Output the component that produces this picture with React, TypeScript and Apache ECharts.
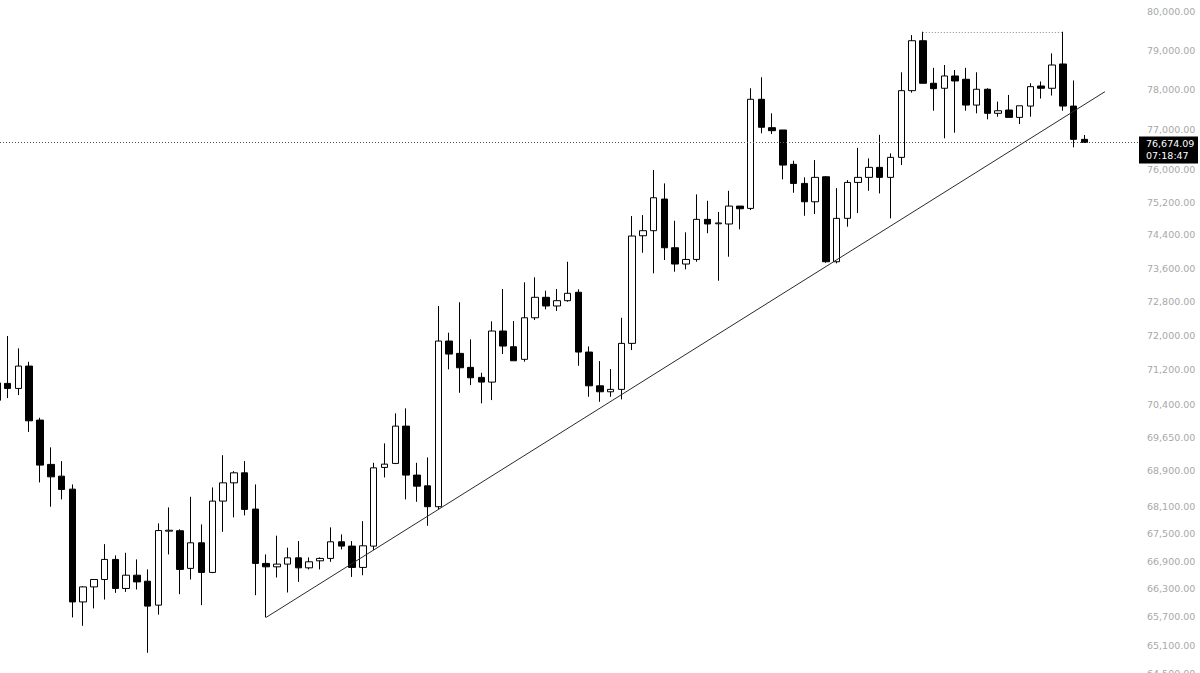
import React, { useEffect, useRef } from "react";
import * as echarts from "echarts";

// Hourly OHLC candles, oldest first (index 0 is partly off the left edge)
const opens = [
  70500, 70889, 70773, 71290, 70047, 69044, 68781, 68490, 66021, 66345,
  66505, 66941, 66311, 66598, 66468, 65952, 67560, 67569, 66746, 67304,
  66658, 68224, 68631, 68855, 68047, 66854, 66780, 66839, 66976, 66758,
  66911, 66963, 67326, 67232, 66767, 67232, 68976, 69066, 69910, 68804,
  68564, 68100, 71873, 71585, 71260, 71028, 70919, 72108, 71740, 71446,
  72420, 72904, 72698, 72824, 73023, 71616, 70833, 70696, 70751, 71819,
  74380, 74502, 75273, 74090, 73698, 73808, 74778, 74670, 74665, 75102,
  75045, 77759, 77043, 76985, 76129, 75658, 75207, 75822, 73753, 74802,
  75682, 75807, 76054, 75807, 76302, 77977, 79255, 78165, 78038, 78351,
  78267, 77612, 78013, 77404, 77487, 77302, 77587, 78096, 78038, 78657,
  77587, 76751,
];
const closes = [
  70900, 70773, 71290, 70031, 69028, 68765, 68483, 66021, 66345, 66505,
  66941, 66311, 66598, 66453, 65931, 67573, 67580, 66724, 67304, 66658,
  68224, 68631, 68855, 68040, 66854, 66780, 66839, 66976, 66758, 66889,
  66963, 67326, 67232, 66767, 67238, 68967, 69050, 69910, 68804, 68557,
  68100, 71873, 71569, 71251, 71019, 70919, 72108, 71756, 71413, 72420,
  72904, 72698, 72824, 72999, 71616, 70833, 70696, 70751, 71819, 74373,
  74502, 75305, 74090, 73698, 73808, 74778, 74665, 74690, 75102, 75036,
  77759, 77053, 76968, 76111, 75658, 75207, 75807, 73753, 74802, 75682,
  75807, 76054, 75807, 76302, 77977, 79255, 78165, 78028, 78351, 78223,
  77612, 78013, 77404, 77469, 77302, 77594, 78079, 78038, 78631, 77587,
  76751, 76674.09,
];
const lows = [
  70460, 70551, 70620, 69779, 68640, 68100, 68262, 65689, 65510, 65882,
  66073, 66216, 66237, 66289, 64937, 65749, 67050, 66188, 66505, 65952,
  66643, 67546, 67863, 67907, 66166, 65689, 66548, 66224, 66453, 66724,
  66724, 66889, 67159, 66561, 66598, 67144, 68752, 69050, 68262, 68209,
  67678, 68040, 71214, 70673, 70850, 70430, 70505, 71569, 71413, 71392,
  72366, 72620, 72580, 72800, 71297, 70581, 70466, 70581, 70521, 71662,
  73969, 73475, 73794, 73514, 73571, 73753, 74441, 73298, 73873, 74536,
  75004, 76902, 76885, 75757, 75428, 74865, 74906, 73729, 73715, 74599,
  74931, 75476, 75412, 74802, 76111, 77926, 78165, 77469, 76777, 76918,
  77469, 77404, 77253, 77319, 77302, 77133, 77319, 77777, 77853, 77469,
  76551, 76660,
];
const highs = [
  71000, 71991, 71702, 71390, 70100, 69428, 69118, 68595, 66360, 66511,
  67275, 67028, 67085, 66941, 66724, 67731, 68084, 67600, 68319, 67709,
  68528, 69252, 68893, 69118, 68595, 67050, 67460, 67197, 67342, 66985,
  66985, 67643, 67489, 67342, 67781, 69080, 69518, 70201, 70315, 69080,
  69201, 72698, 72068, 72786, 71913, 71135, 72336, 73101, 72343, 73260,
  73380, 73061, 73101, 73753, 73094, 71748, 71406, 71221, 72420, 74858,
  74882, 75988, 75658, 74744, 74463, 75388, 75232, 74960, 75476, 75102,
  78038, 78318, 77404, 76985, 76218, 75807, 76235, 75839, 75541, 75739,
  76540, 76277, 76864, 76401, 78445, 79400, 79487, 78560, 78631, 78503,
  78560, 78445, 78038, 77700, 77868, 77594, 78165, 78211, 78930, 79487,
  78236, 76860,
];

const lastPrice = 76674.09;
const countdown = "07:18:47";

const priceTicks = [
  80000, 79000, 78000, 77000, 76000, 75200, 74400, 73600, 72800, 72000,
  71200, 70400, 69650, 68900, 68100, 67500, 66900, 66300, 65700, 65100,
  64500,
];

// Rising support drawn from the swing low, and the double-top resistance
const trendFrom = [25, 65689];
const trendTo = [102.92, 77952];
const resistanceFrom = [86, 79487];
const resistanceTo = [99, 79487];

const FONT = '"DejaVu Sans", Verdana, sans-serif';
const ln = Math.log;

function fmtPrice(v: number) {
  return v.toLocaleString("en-US", {
    minimumFractionDigits: 2,
    maximumFractionDigits: 2,
  });
}

export default function App() {
  const ref = useRef<HTMLDivElement>(null);

  useEffect(() => {
    if (!ref.current) return;
    const chart = echarts.init(ref.current, undefined, { renderer: "svg" });

    // Prices are plotted on a natural-log scale
    const candles = opens.map((o, i) => [
      i,
      ln(o),
      ln(closes[i]),
      ln(lows[i]),
      ln(highs[i]),
    ]);

    chart.setOption({
      animation: false,
      backgroundColor: "#ffffff",
      grid: {
        left: 0,
        right: 62,
        top: 0,
        bottom: -1,
        containLabel: false,
        outerBoundsMode: "none",
      },
      xAxis: {
        type: "value",
        min: 0.2852,
        max: 105.988,
        show: false,
        splitLine: { show: false },
      },
      yAxis: {
        type: "value",
        position: "right",
        min: ln(64490),
        max: ln(80313),
        scale: true,
        splitLine: { show: false },
        axisLine: { show: false },
        axisTick: { show: false },
        axisLabel: {
          customValues: priceTicks.map((p) => ln(p)),
          margin: 9,
          color: "#a8a8a8",
          fontFamily: FONT,
          fontSize: 9.5,
          formatter: (v: number) => {
            const p = Math.exp(v);
            let best = priceTicks[0];
            for (const t of priceTicks) {
              if (Math.abs(t - p) < Math.abs(best - p)) best = t;
            }
            return fmtPrice(best);
          },
        },
      },
      series: [
        {
          type: "candlestick",
          dimensions: ["idx", "open", "close", "lowest", "highest"],
          encode: { x: 0, y: [1, 2, 3, 4] },
          data: candles,
          barWidth: 7,
          itemStyle: {
            color: "#ffffff",
            color0: "#000000",
            borderColor: "#000000",
            borderColor0: "#000000",
            borderWidth: 1,
          },
          markLine: {
            silent: true,
            precision: 10,
            symbol: ["none", "none"],
            label: { show: false },
            data: [
              {
                yAxis: ln(lastPrice),
                lineStyle: { color: "#555555", width: 1, type: [1, 2] },
              },
              [
                {
                  coord: [resistanceFrom[0], ln(resistanceFrom[1])],
                  lineStyle: { color: "#8a8a8a", width: 1, type: [1, 2] },
                },
                { coord: [resistanceTo[0], ln(resistanceTo[1])] },
              ],
              [
                {
                  coord: [trendFrom[0], ln(trendFrom[1])],
                  lineStyle: { color: "#2a2a2a", width: 1, type: "solid" },
                },
                { coord: [trendTo[0], ln(trendTo[1])] },
              ],
            ],
          },
        },
      ],
    });

    // Last-price tag on the price scale
    const y = chart.convertToPixel({ yAxisIndex: 0 }, ln(lastPrice)) as number;
    chart.setOption({
      graphic: {
        elements: [
          {
            type: "group",
            x: 1139,
            y: y - 6,
            children: [
              {
                type: "rect",
                shape: { x: 0, y: 0, width: 59, height: 27 },
                style: { fill: "#000000" },
              },
              {
                type: "text",
                x: 7,
                y: 7,
                style: {
                  text: fmtPrice(lastPrice),
                  fill: "#ffffff",
                  fontFamily: FONT,
                  fontSize: 9.5,
                  align: "left",
                  verticalAlign: "middle",
                },
              },
              {
                type: "text",
                x: 7,
                y: 19.5,
                style: {
                  text: countdown,
                  fill: "#ffffff",
                  fontFamily: FONT,
                  fontSize: 9.5,
                  align: "left",
                  verticalAlign: "middle",
                },
              },
            ],
          },
        ],
      },
    });

    return () => chart.dispose();
  }, []);

  return (
    <div
      ref={ref}
      style={{ position: "fixed", left: 0, top: 0, width: 1200, height: 673 }}
    />
  );
}
